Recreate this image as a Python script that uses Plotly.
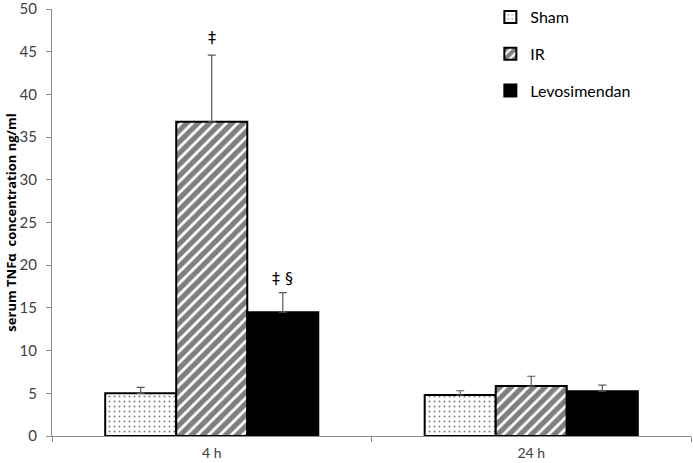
import plotly.graph_objects as go

categories = ["4 h", "24 h"]
sham = [5.0, 4.8]
sham_err = [0.7, 0.5]
ir = [36.8, 5.85]
ir_err = [7.8, 1.15]
levo = [14.5, 5.25]
levo_err = [2.3, 0.7]
annot_text = ["‡", "‡ §"]
annot_series = ["IR", "Levosimendan"]
annot_y = [46.7, 18.4]

fig = go.Figure()

def err(vals):
    return dict(type="data", array=vals, arrayminus=[0]*len(vals), symmetric=False,
                color="#595959", thickness=1.2, width=4)

fig.add_trace(go.Bar(name="Sham", x=categories, y=sham, error_y=err(sham_err),
                     marker=dict(color="white", line=dict(color="black", width=2),
                                 pattern=dict(shape=".", fgcolor="black", bgcolor="white",
                                              size=5, solidity=0.12)),
                     legendgroup="a"))
fig.add_trace(go.Bar(name="IR", x=categories, y=ir, error_y=err(ir_err),
                     marker=dict(color="white", line=dict(color="black", width=2),
                                 pattern=dict(shape="/", fgcolor="black", bgcolor="white",
                                              size=8, solidity=0.65)),
                     legendgroup="b"))
fig.add_trace(go.Bar(name="Levosimendan", x=categories, y=levo, error_y=err(levo_err),
                     marker=dict(color="black", line=dict(color="black", width=2)),
                     legendgroup="c"))

offsets = {"Sham": -1, "IR": 0, "Levosimendan": 1}
for txt, s, yv in zip(annot_text, annot_series, annot_y):
    fig.add_annotation(x=categories[0], y=yv, text=txt, showarrow=False,
                       xref="x", yref="y", xshift=offsets[s] * 71,
                       font=dict(size=16, color="#000000", family="DejaVu Sans"))

fig.update_layout(
    width=693, height=463,
    margin=dict(l=52, r=2, t=9, b=27, autoexpand=False),
    plot_bgcolor="white", paper_bgcolor="white",
    barmode="group", bargap=0.333, bargroupgap=0,
    font=dict(family="Lato, Open Sans, sans-serif", color="#404040"),
    legend=dict(x=0.686, y=1.015, yref="container", xanchor="left", yanchor="top",
                traceorder="grouped", tracegroupgap=13,
                font=dict(size=16, color="black"), bgcolor="rgba(0,0,0,0)",
                itemwidth=30),
    xaxis=dict(showline=True, linecolor="#8c8c8c", linewidth=1, automargin=False,
               ticks="outside", tickson="boundaries", ticklen=5, tickcolor="#8c8c8c",
               ticklabelstandoff=4,
               tickfont=dict(size=14, color="#404040")),
    yaxis=dict(range=[0, 50.01], tickvals=[0, 5, 10, 15, 20, 25, 30, 35, 40, 45, 50],
               showline=True, linecolor="#8c8c8c", linewidth=1, automargin=False,
               ticks="outside", ticklen=5, tickcolor="#8c8c8c", showgrid=False,
               zeroline=False, ticklabeloverflow="allow", ticklabelstandoff=6,
               tickfont=dict(size=15, color="#404040"),
               title=dict(text="<b>serum TNFα  concentration ng/ml</b>",
                          font=dict(size=13, color="black", family="Open Sans, sans-serif"),
                          standoff=0)),
)

fig.write_html("out.html", config={"displayModeBar": False},
               post_script="document.body.style.margin='0px';")
